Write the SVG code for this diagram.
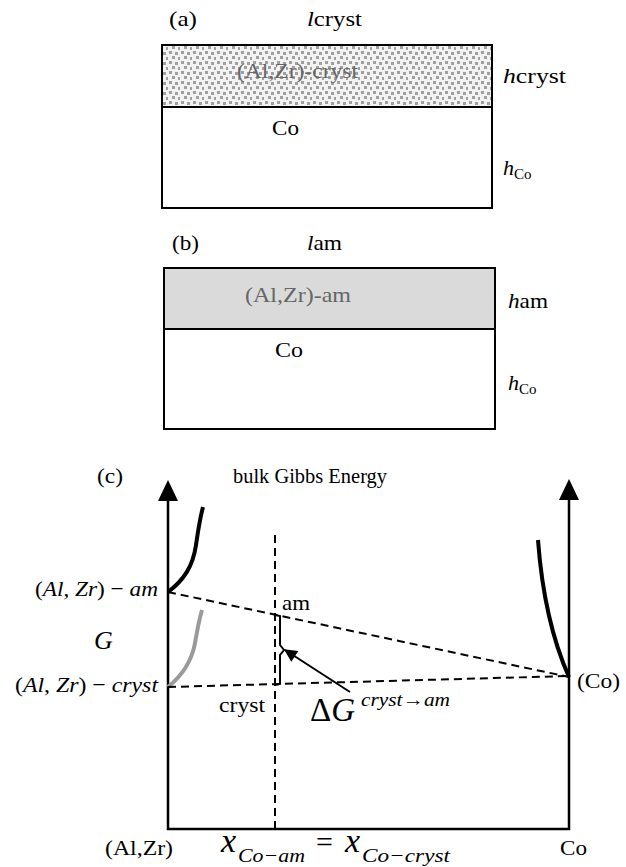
<svg xmlns="http://www.w3.org/2000/svg" width="626" height="867" viewBox="0 0 626 867">
<style>
text{font-family:"Liberation Serif","Times New Roman",serif;fill:#000;font-size:22px}
.it{font-style:italic}
.box{fill:none;stroke:#000;stroke-width:2}
.ax{fill:none;stroke:#000;stroke-width:2.5}
.dash{fill:none;stroke:#000;stroke-width:2;stroke-dasharray:8 5}
.layer{fill:#666}
.sub{font-size:15px}
.big{font-size:34px}
.sup{font-size:19px}
.msub{font-size:19px}
</style>
<defs>
<pattern id="dots" width="12" height="10" patternUnits="userSpaceOnUse">
<rect width="12" height="10" fill="#f2f2f2"/>
<rect x="1" y="1" width="3" height="3" fill="#a0a0a0"/>
<rect x="7" y="2" width="3" height="3" fill="#a0a0a0"/>
<rect x="4" y="6" width="3" height="3" fill="#a0a0a0"/>
<rect x="10" y="7" width="3" height="3" fill="#a0a0a0"/>
</pattern>
<marker id="ah" viewBox="0 0 10 10" refX="9" refY="5" markerWidth="15" markerHeight="13" orient="auto" markerUnits="userSpaceOnUse">
<path d="M0,0 L10,5 L0,10 z" fill="#000"/>
</marker>
</defs>
<rect width="626" height="867" fill="#fff"/>

<g id="panel-a">
<text x="169" y="26" textLength="28" lengthAdjust="spacingAndGlyphs">(a)</text>
<text x="307" y="26" textLength="55" lengthAdjust="spacingAndGlyphs"><tspan class="it">l</tspan>cryst</text>
<rect x="162" y="45" width="330" height="62" fill="url(#dots)"/>
<rect x="162" y="107" width="330" height="101" fill="#fff"/>
<rect x="162" y="45" width="330" height="163" class="box"/>
<line x1="162" y1="107" x2="492" y2="107" stroke="#000" stroke-width="2"/>
<text x="237" y="78" textLength="121" lengthAdjust="spacingAndGlyphs" class="layer">(Al,Zr)-cryst</text>
<text x="272" y="135" textLength="27" lengthAdjust="spacingAndGlyphs">Co</text>
<text x="503" y="83" textLength="63" lengthAdjust="spacingAndGlyphs"><tspan class="it">h</tspan>cryst</text>
<text x="503" y="175"><tspan class="it">h</tspan><tspan class="sub" dy="4">Co</tspan></text>
</g>

<g id="panel-b">
<text x="172" y="250" textLength="27" lengthAdjust="spacingAndGlyphs">(b)</text>
<text x="307" y="250" textLength="35" lengthAdjust="spacingAndGlyphs"><tspan class="it">l</tspan>am</text>
<rect x="164" y="268" width="331" height="61" fill="#dadada"/>
<rect x="164" y="268" width="331" height="161" class="box"/>
<line x1="164" y1="329" x2="495" y2="329" stroke="#000" stroke-width="2"/>
<text x="245" y="302" textLength="106" lengthAdjust="spacingAndGlyphs" class="layer">(Al,Zr)-am</text>
<text x="275" y="357" textLength="28" lengthAdjust="spacingAndGlyphs">Co</text>
<text x="508" y="308" textLength="40" lengthAdjust="spacingAndGlyphs"><tspan class="it">h</tspan>am</text>
<text x="508" y="390"><tspan class="it">h</tspan><tspan class="sub" dy="4">Co</tspan></text>
</g>

<g id="panel-c-axes">
<path class="ax" d="M168,498 L168,829 L569,829 L569,498"/>
<path d="M168,480 L158,501 L178,501 z" fill="#000"/>
<path d="M569,479 L559,500 L579,500 z" fill="#000"/>
</g>

<g id="curves">
<path d="M168,592 C184,580 193,566 196,545 S200,518 203,507" fill="none" stroke="#000" stroke-width="4"/>
<path d="M168,687 C184,674 192,660 195,643 S199,620 202,610" fill="none" stroke="#9a9a9a" stroke-width="4"/>
<path d="M538,540 C541,580 548,630 569,677" fill="none" stroke="#000" stroke-width="4"/>
</g>

<g id="connectors">
<line class="dash" x1="275" y1="535" x2="275" y2="834"/>
<line class="dash" x1="168" y1="592" x2="569" y2="677"/>
<line class="dash" x1="168" y1="687" x2="569" y2="676"/>
<path d="M275,615 L280,616 L280,645 L284,650 L280,655 L280,684 L275,685" fill="none" stroke="#000" stroke-width="2"/>
<line x1="350" y1="692" x2="285" y2="650" stroke="#000" stroke-width="2" marker-end="url(#ah)"/>
</g>

<g id="labels-c">
<text x="97" y="483" textLength="26" lengthAdjust="spacingAndGlyphs">(c)</text>
<text x="233" y="483" textLength="154" lengthAdjust="spacingAndGlyphs">bulk Gibbs Energy</text>
<text x="35" y="596" textLength="123" lengthAdjust="spacingAndGlyphs">(<tspan class="it">Al</tspan>, <tspan class="it">Zr</tspan>) − <tspan class="it">am</tspan></text>
<text x="94" y="649" class="it" style="font-size:26px">G</text>
<text x="15" y="692" textLength="143" lengthAdjust="spacingAndGlyphs">(<tspan class="it">Al</tspan>, <tspan class="it">Zr</tspan>) − <tspan class="it">cryst</tspan></text>
<text x="282" y="610" textLength="28" lengthAdjust="spacingAndGlyphs">am</text>
<text x="219" y="712" textLength="46" lengthAdjust="spacingAndGlyphs">cryst</text>
<text x="577" y="688" textLength="43" lengthAdjust="spacingAndGlyphs">(Co)</text>
<text x="310" y="721" style="font-size:33px">Δ<tspan class="it">G</tspan></text>
<text x="361" y="706" class="it sup" textLength="89" lengthAdjust="spacingAndGlyphs">cryst→am</text>
<text x="105" y="855" textLength="68" lengthAdjust="spacingAndGlyphs">(Al,Zr)</text>
<text x="560" y="855" textLength="27" lengthAdjust="spacingAndGlyphs">Co</text>
<text x="221" y="852" class="it big">x</text>
<text x="238" y="862" class="it msub" textLength="67" lengthAdjust="spacingAndGlyphs">Co−am</text>
<text x="316" y="852" style="font-size:30px">=</text>
<text x="345" y="852" class="it big">x</text>
<text x="362" y="862" class="it msub" textLength="88" lengthAdjust="spacingAndGlyphs">Co−cryst</text>
</g>
</svg>
